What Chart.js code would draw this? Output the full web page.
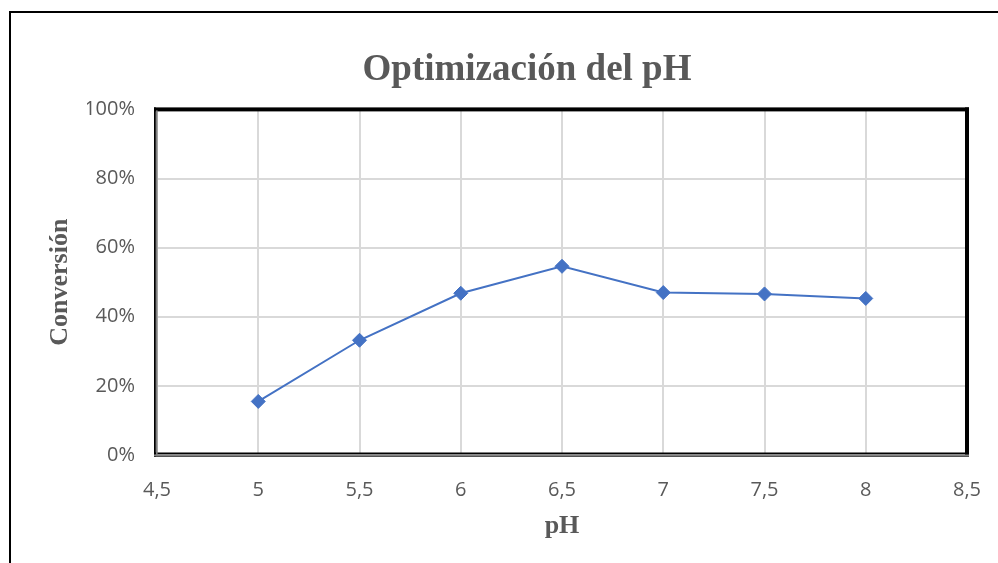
<!DOCTYPE html>
<html>
<head>
<meta charset="utf-8">
<script src="https://cdn.jsdelivr.net/npm/chart.js@4.4.1/dist/chart.umd.min.js"></script>
<style>
html,body{margin:0;padding:0;background:#fff;}
#wrap{width:998px;height:563px;}
</style>
</head>
<body>
<div id="wrap"><canvas id="myChart" width="998" height="563"></canvas></div>
<script>
// datos
var ph=[5,5.5,6,6.5,7,7.5,8];
var conversion=[15.5,33.2,46.8,54.6,47.0,46.6,45.3];
var xTickLabels=['4,5','5','5,5','6','6,5','7','7,5','8','8,5'];
var yTickLabels=['0%','20%','40%','60%','80%','100%'];

var gris='#595959';
var azul='#4472C4';

var puntos=[];
for(var i=0;i<ph.length;i++){
	puntos.push({x:ph[i],y:conversion[i]});
}

// marcos: exterior y del area de trazado
var marcos={
	id:'marcos',
	afterDraw:function(chart){
		var c=chart.ctx;
		var a=chart.chartArea;
		c.save();
		c.strokeStyle='#000';
		c.lineWidth=2;
		c.beginPath();
		c.moveTo(10,563);c.lineTo(10,12);c.lineTo(998,12);
		c.stroke();
		// arriba y derecha gruesos
		c.fillStyle='#000';
		c.fillRect(a.left-3,a.top-2,a.right-a.left+5,4);
		c.fillRect(a.right-2,a.top-2,4,a.bottom-a.top+3);
		// izquierda y abajo doble linea
		c.fillRect(a.left-3,a.top-2,1.8,a.bottom-a.top+4);
		c.fillRect(a.left-3,a.bottom-2.5,a.right-a.left+5,1.8);
		c.fillStyle='#808080';
		c.fillRect(a.left-1,a.top+1,1.6,a.bottom-a.top-1);
		c.fillRect(a.left-3,a.bottom-0.5,a.right-a.left+5,1.8);
		c.fillStyle='#333';
		c.fillRect(a.left-3,a.bottom+1.2,a.right-a.left+5,0.8);
		c.restore();
	}
};

var ctx=document.getElementById("myChart").getContext("2d");
var grafico=new Chart(ctx,{
	type:'scatter',
	data:{
		datasets:[{
			label:'Conversión',
			data:puntos,
			showLine:true,
			borderColor:azul,
			backgroundColor:azul,
			borderWidth:2,
			pointStyle:'rectRot',
			pointRadius:7,
			pointBorderWidth:1,
			pointBackgroundColor:azul,
			pointBorderColor:azul
		}]
	},
	options:{
		responsive:false,
		animation:false,
		layout:{padding:{left:87,right:31,top:0,bottom:0}},
		plugins:{
			legend:{display:false},
			tooltip:{enabled:false},
			title:{
				display:true,
				text:'Optimización del pH',
				color:gris,
				font:{family:'"Liberation Serif", "Times New Roman", serif',size:37,weight:'bold',lineHeight:1.2},
				padding:{top:48,bottom:17}
			}
		},
		scales:{
			x:{
				type:'linear',
				min:4.5,max:8.5,
				border:{display:false},
				grid:{color:'#d9d9d9',lineWidth:2,drawTicks:false},
				ticks:{
					stepSize:0.5,
					padding:23,
					color:gris,
					font:{family:'"Open Sans", sans-serif',size:20},
					callback:function(v,i){return xTickLabels[i];}
				},
				title:{
					display:true,
					text:'pH',
					color:gris,
					font:{family:'"Liberation Serif", "Times New Roman", serif',size:26,weight:'bold',lineHeight:1.2},
					padding:{top:0,bottom:21}
				},
				afterFit:function(s){s.height=108;s.paddingLeft=0;s.paddingRight=0;}
			},
			y:{
				min:0,max:100,
				border:{display:false},
				grid:{color:'#d9d9d9',lineWidth:2,drawTicks:false},
				ticks:{
					stepSize:20,
					padding:22,
					color:gris,
					font:{family:'"Open Sans", sans-serif',size:20},
					callback:function(v,i){return yTickLabels[i];}
				},
				title:{
					display:true,
					text:'Conversión',
					color:gris,
					font:{family:'"Liberation Serif", "Times New Roman", serif',size:26,weight:'bold',lineHeight:1.2},
					padding:{top:-42.6,bottom:0}
				},
				afterFit:function(s){s.width=70;}
			}
		}
	},
	plugins:[marcos]
});
</script>
</body>
</html>
